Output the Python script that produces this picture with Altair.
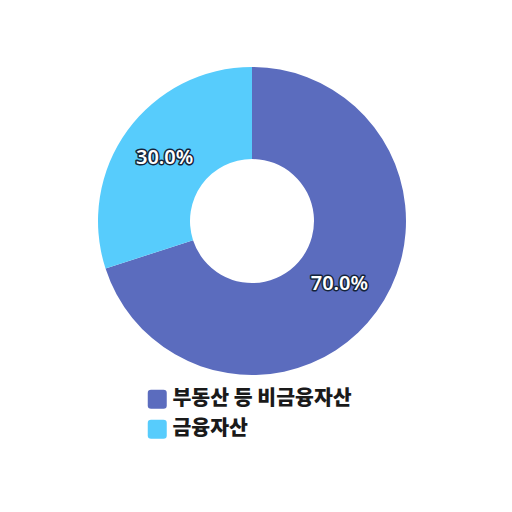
import altair as alt
import pandas as pd

categories = ["부동산 등 비금융자산", "금융자산"]
values = [70.0, 30.0]
labels = ["70.0%", "30.0%"]
colors = ["#5B6CBE", "#57CCFC"]

df = pd.DataFrame({"cat": categories, "value": values, "label": labels, "ord": [0, 1]})

cx, cy = 244, 213

base = alt.Chart(df).encode(
    theta=alt.Theta("value:Q", stack=True),
    order=alt.Order("ord:Q"),
    x=alt.value(cx),
    y=alt.value(cy),
)

rounded = "M-0.65,-1 L0.65,-1 Q1,-1 1,-0.65 L1,0.65 Q1,1 0.65,1 L-0.65,1 Q-1,1 -1,0.65 L-1,-0.65 Q-1,-1 -0.65,-1 Z"

arc = base.mark_arc(outerRadius=154, innerRadius=62, stroke=None).encode(
    color=alt.Color(
        "cat:N",
        scale=alt.Scale(domain=categories, range=colors),
        legend=alt.Legend(
            title=None,
            orient="none",
            legendX=139,
            legendY=381,
            symbolType=rounded,
            symbolSize=361,
            symbolStrokeWidth=0,
            labelFont="Noto Sans CJK KR",
            labelFontSize=20.5,
            labelFontWeight=900,
            labelColor="#1a1a1a",
            rowPadding=9,
            labelOffset=5,
            labelLimit=400,
        ),
    )
)

txt_outline = base.mark_text(
    radius=108, font="Noto Sans", fontSize=20, fontWeight=600,
    fill="white", stroke="#15243a", strokeWidth=3, strokeJoin="round"
).encode(text="label:N")

txt = base.mark_text(
    radius=108, font="Noto Sans", fontSize=20, fontWeight=600, fill="white"
).encode(text="label:N")

chart = (arc + txt_outline + txt).properties(
    width=488, height=480, padding=0
).configure_view(stroke=None)

chart.save("out.html", embed_options={"renderer": "svg", "actions": False})
